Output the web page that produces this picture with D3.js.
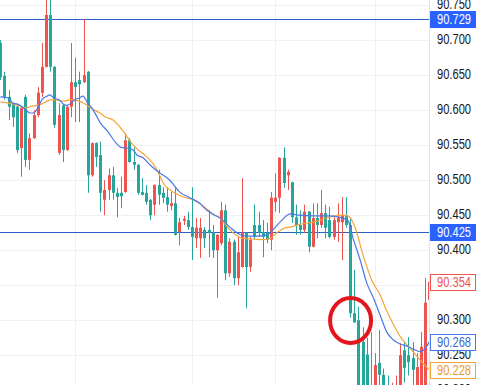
<!DOCTYPE html>
<html>
<head>
    <title>Candles</title>
    <script src="https://d3js.org/d3.v7.min.js"></script>
    <style>
        body { margin: 0; background: #fff; }
        text { font-family: 'Liberation Sans', Arial, sans-serif; }
    </style>
</head>
<body>
<svg id="chart"></svg>
<script>
// candle values, one per bar, oldest first
var opens = [
    90.695, 90.648, 90.618, 90.609, 90.604, 90.545, 90.618, 90.528, 90.559, 90.592,
    90.624, 90.661, 90.735, 90.661, 90.538, 90.606, 90.542, 90.604, 90.639, 90.642,
    90.639, 90.654, 90.506, 90.552, 90.535, 90.471, 90.485, 90.506, 90.481, 90.481,
    90.482, 90.556, 90.525, 90.521, 90.482, 90.481, 90.471, 90.464, 90.492, 90.481,
    90.475, 90.462, 90.466, 90.425, 90.441, 90.442, 90.432, 90.416, 90.416, 90.428,
    90.428, 90.424, 90.399, 90.409, 90.456, 90.366, 90.411, 90.359, 90.375, 90.424,
    90.375, 90.435, 90.435, 90.425, 90.424, 90.414, 90.468, 90.474, 90.531, 90.506,
    90.496, 90.446, 90.435, 90.428, 90.454, 90.404, 90.445, 90.435, 90.452, 90.442,
    90.418, 90.439, 90.439, 90.449, 90.435, 90.309, 90.299, 90.268, 90.250, 90.170,
    90.190, 90.238, 90.221, 90.200, 90.180, 90.185, 90.190, 90.256, 90.249, 90.245,
    90.190, 90.200, 90.200, 90.328
];
var highs = [
    90.699, 90.654, 90.628, 90.610, 90.606, 90.603, 90.621, 90.566, 90.599, 90.632,
    90.695, 90.764, 90.762, 90.662, 90.609, 90.607, 90.605, 90.695, 90.674, 90.654,
    90.729, 90.655, 90.553, 90.553, 90.554, 90.499, 90.516, 90.518, 90.488, 90.504,
    90.566, 90.559, 90.546, 90.522, 90.502, 90.492, 90.472, 90.493, 90.514, 90.489,
    90.489, 90.482, 90.489, 90.445, 90.448, 90.454, 90.489, 90.445, 90.445, 90.432,
    90.456, 90.435, 90.422, 90.468, 90.464, 90.416, 90.414, 90.418, 90.502, 90.425,
    90.418, 90.464, 90.454, 90.442, 90.438, 90.482, 90.509, 90.532, 90.546, 90.514,
    90.497, 90.464, 90.456, 90.464, 90.455, 90.466, 90.466, 90.485, 90.464, 90.461,
    90.446, 90.466, 90.475, 90.475, 90.446, 90.371, 90.318, 90.289, 90.274, 90.282,
    90.252, 90.285, 90.230, 90.220, 90.210, 90.220, 90.266, 90.268, 90.275, 90.268,
    90.252, 90.282, 90.359, 90.359
];
var lows = [
    90.642, 90.614, 90.585, 90.575, 90.538, 90.504, 90.518, 90.514, 90.558, 90.589,
    90.618, 90.660, 90.654, 90.574, 90.535, 90.525, 90.541, 90.589, 90.582, 90.582,
    90.638, 90.481, 90.504, 90.518, 90.454, 90.449, 90.471, 90.471, 90.446, 90.459,
    90.481, 90.524, 90.514, 90.478, 90.477, 90.464, 90.442, 90.449, 90.464, 90.466,
    90.454, 90.456, 90.420, 90.406, 90.435, 90.428, 90.385, 90.402, 90.388, 90.402,
    90.389, 90.388, 90.331, 90.406, 90.356, 90.361, 90.349, 90.349, 90.374, 90.316,
    90.368, 90.414, 90.418, 90.389, 90.409, 90.399, 90.454, 90.452, 90.488, 90.485,
    90.438, 90.421, 90.421, 90.424, 90.396, 90.403, 90.416, 90.431, 90.416, 90.416,
    90.414, 90.411, 90.385, 90.431, 90.303, 90.295, 90.185, 90.170, 90.160, 90.160,
    90.170, 90.190, 90.170, 90.165, 90.170, 90.175, 90.180, 90.210, 90.220, 90.200,
    90.180, 90.190, 90.190, 90.320
];
var closes = [
    90.646, 90.618, 90.604, 90.589, 90.542, 90.602, 90.528, 90.559, 90.592, 90.624,
    90.661, 90.735, 90.661, 90.578, 90.592, 90.542, 90.604, 90.639, 90.632, 90.636,
    90.649, 90.506, 90.552, 90.532, 90.481, 90.485, 90.506, 90.481, 90.475, 90.476,
    90.556, 90.525, 90.521, 90.481, 90.478, 90.468, 90.449, 90.492, 90.478, 90.474,
    90.464, 90.466, 90.421, 90.439, 90.444, 90.432, 90.418, 90.431, 90.431, 90.416,
    90.424, 90.399, 90.421, 90.456, 90.366, 90.411, 90.359, 90.396, 90.424, 90.375,
    90.414, 90.418, 90.424, 90.418, 90.414, 90.474, 90.474, 90.531, 90.495, 90.511,
    90.446, 90.435, 90.428, 90.454, 90.404, 90.445, 90.435, 90.452, 90.431, 90.418,
    90.442, 90.445, 90.449, 90.435, 90.309, 90.296, 90.192, 90.190, 90.180, 90.200,
    90.235, 90.221, 90.190, 90.180, 90.195, 90.205, 90.249, 90.231, 90.239, 90.228,
    90.232, 90.261, 90.324, 90.354
];

// moving averages: [bar index, price]
var maFast = [
    [0, 90.618], [2.1, 90.616], [3, 90.609], [4, 90.608], [5.2, 90.604], [6.2, 90.599],
    [7.1, 90.595], [7.9, 90.595], [9, 90.602], [10, 90.614], [11.2, 90.619], [11.9, 90.621],
    [12.9, 90.616], [14.1, 90.614], [15.1, 90.608], [16, 90.606], [17, 90.609], [17.9, 90.614],
    [18.9, 90.616], [19.9, 90.619], [20.8, 90.611], [22, 90.602], [23, 90.592], [23.9, 90.582],
    [25.9, 90.568], [27.8, 90.552], [29, 90.546], [30.4, 90.545], [31.9, 90.542], [32.8, 90.535],
    [34.3, 90.531], [35.9, 90.521], [37.9, 90.511], [40.7, 90.499], [43.1, 90.482], [45.5, 90.474],
    [47.9, 90.466], [49.6, 90.456], [51.5, 90.449], [52.8, 90.445], [55.1, 90.432], [57.6, 90.421],
    [59.2, 90.419], [61.6, 90.419], [64, 90.421], [65.9, 90.431], [67.6, 90.442], [69.6, 90.451],
    [71.9, 90.449], [75.1, 90.448], [78.4, 90.448], [81.6, 90.446], [83.5, 90.441], [84.7, 90.416],
    [86.4, 90.385], [88, 90.352], [89.5, 90.332], [91.2, 90.306], [92.8, 90.282], [94.3, 90.271],
    [96, 90.265], [97.6, 90.262], [99.1, 90.258], [100.8, 90.254], [102.4, 90.262], [103, 90.268]
];
var maSlow = [
    [0, 90.611], [3, 90.608], [5.2, 90.604], [6.2, 90.602], [7.1, 90.604], [9, 90.606],
    [10, 90.608], [11.2, 90.612], [12.9, 90.614], [15.1, 90.612], [17, 90.614], [18.9, 90.612],
    [20.1, 90.609], [21.1, 90.605], [22, 90.601], [23, 90.598], [23.9, 90.595], [25.4, 90.589],
    [27.1, 90.585], [28.7, 90.575], [29.9, 90.566], [31.1, 90.555], [32.8, 90.544], [34.7, 90.535],
    [35.9, 90.528], [37.6, 90.514], [39.1, 90.495], [41.5, 90.482], [43.9, 90.475], [46.3, 90.471],
    [48.7, 90.462], [51.5, 90.449], [52.8, 90.445], [55.1, 90.428], [58.3, 90.416], [60.7, 90.415],
    [63.1, 90.414], [64.8, 90.416], [66.4, 90.424], [68.4, 90.431], [69.6, 90.432], [71.9, 90.436],
    [75.1, 90.439], [78.4, 90.445], [81.6, 90.449], [83.5, 90.448], [85.2, 90.431], [87.1, 90.392],
    [89.2, 90.356], [91.2, 90.335], [92.8, 90.312], [94.3, 90.294], [96, 90.276], [97.6, 90.264],
    [99.1, 90.254], [100.8, 90.242], [102, 90.234], [103, 90.228]
];

var priceTicks = [90.2, 90.25, 90.3, 90.35, 90.4, 90.45, 90.5, 90.55, 90.6, 90.65, 90.7, 90.75];
var shownTicks = [90.2, 90.25, 90.3, 90.4, 90.45, 90.5, 90.55, 90.6, 90.65, 90.7, 90.75]; // 90.35 sits under the last-price tag
var timeGrid = [18, 46, 66, 90];          // bar index of the vertical grid lines
var hLines = [90.729, 90.425];            // drawn horizontal levels
var marker = { bar: 84.1, price: 90.2986 }; // red circle

var svgWidth = 481, svgHeight = 385, plotWidth = 429;
var green = '#26a69a', red = '#ef5350';
var blue = '#4a78e6', orange = '#f5a43a', lineBlue = '#2b5ec9';

var svg = d3.select('#chart')
    .attr('width', svgWidth)
    .attr('height', svgHeight)
    .style('display', 'block');

var x = d3.scaleLinear().domain([0, opens.length - 1]).range([0.3, 0.3 + 4.165 * (opens.length - 1)]);
var y = d3.scaleLinear().domain([90.20643, 90.75643]).range([svgHeight, 0]);

svg.append('rect').attr('width', svgWidth).attr('height', svgHeight).attr('fill', '#fff');

svg.append('defs').append('clipPath').attr('id', 'plot')
    .append('rect').attr('width', plotWidth).attr('height', svgHeight);

var plot = svg.append('g').attr('clip-path', 'url(#plot)');

// grid
plot.selectAll('line.hg')
    .data(priceTicks)
    .enter().append('line')
    .attr('x1', 0).attr('x2', plotWidth)
    .attr('y1', function(d) { return Math.round(y(d)) + 0.5; })
    .attr('y2', function(d) { return Math.round(y(d)) + 0.5; })
    .attr('stroke', '#eef0f4');
plot.selectAll('line.vg')
    .data(timeGrid)
    .enter().append('line')
    .attr('y1', 0).attr('y2', svgHeight)
    .attr('x1', function(d) { return Math.round(x(d)) + 0.5; })
    .attr('x2', function(d) { return Math.round(x(d)) + 0.5; })
    .attr('stroke', '#eef0f4');

// horizontal levels
plot.selectAll('line.lvl')
    .data(hLines)
    .enter().append('line')
    .attr('x1', 0).attr('x2', plotWidth)
    .attr('y1', function(d) { return Math.round(y(d)) + 0.5; })
    .attr('y2', function(d) { return Math.round(y(d)) + 0.5; })
    .attr('stroke', lineBlue);

// candles
var bars = d3.range(opens.length);
var candle = plot.selectAll('g.c')
    .data(bars)
    .enter().append('g')
    .attr('fill', function(i) { return closes[i] >= opens[i] ? red : green; });
candle.append('rect')
    .attr('x', function(i) { return Math.round(x(i)); })
    .attr('width', 1)
    .attr('y', function(i) { return y(highs[i]); })
    .attr('height', function(i) { return y(lows[i]) - y(highs[i]); });
candle.append('rect')
    .attr('x', function(i) { return Math.round(x(i)) - 1; })
    .attr('width', 3)
    .attr('y', function(i) { return y(Math.max(opens[i], closes[i])); })
    .attr('height', function(i) { return Math.max(1, Math.abs(y(opens[i]) - y(closes[i]))); });

// moving averages
var ma = d3.line()
    .x(function(d) { return x(d[0]); })
    .y(function(d) { return y(d[1]); })
    .curve(d3.curveMonotoneX);
plot.append('path').attr('d', ma(maSlow)).attr('fill', 'none').attr('stroke', orange).attr('stroke-width', 1.2);
plot.append('path').attr('d', ma(maFast)).attr('fill', 'none').attr('stroke', blue).attr('stroke-width', 1.2);

// annotation circle
plot.append('ellipse')
    .attr('cx', x(marker.bar)).attr('cy', y(marker.price))
    .attr('rx', 20.5).attr('ry', 22.5)
    .attr('fill', 'none').attr('stroke', '#e3161e').attr('stroke-width', 4);

// price axis
var axis = svg.append('g');
axis.append('line')
    .attr('x1', plotWidth + 0.5).attr('x2', plotWidth + 0.5)
    .attr('y1', 0).attr('y2', svgHeight)
    .attr('stroke', '#e0e3eb');
axis.selectAll('text.tick')
    .data(shownTicks)
    .enter().append('text')
    .attr('x', 437)
    .attr('y', function(d) { return y(d); })
    .attr('dy', '0.35em')
    .attr('font-size', 14)
    .attr('textLength', 34)
    .attr('lengthAdjust', 'spacingAndGlyphs')
    .attr('fill', '#131722')
    .text(function(d) { return d.toFixed(3); });

// value labels on the axis
var tags = [
    { v: hLines[0], fill: '#2962ff', stroke: '#2962ff', color: '#fff' },
    { v: hLines[1], fill: '#2962ff', stroke: '#2962ff', color: '#fff' },
    { v: closes[closes.length - 1], fill: '#fff', stroke: red, color: red },
    { v: maFast[maFast.length - 1][1], fill: '#fff', stroke: blue, color: '#3a66d0' },
    { v: maSlow[maSlow.length - 1][1], fill: '#fff', stroke: orange, color: '#eb9a2a' }
];
var tag = axis.selectAll('g.tag')
    .data(tags)
    .enter().append('g');
tag.append('rect')
    .attr('x', plotWidth + 1.5)
    .attr('y', function(d) { return Math.round(y(d.v)) - 8 + 0.5; })
    .attr('width', 45).attr('height', 16)
    .attr('fill', function(d) { return d.fill; })
    .attr('stroke', function(d) { return d.stroke; });
tag.append('text')
    .attr('x', 437)
    .attr('y', function(d) { return Math.round(y(d.v)) + 0.5; })
    .attr('dy', '0.35em')
    .attr('font-size', 14)
    .attr('textLength', 34)
    .attr('lengthAdjust', 'spacingAndGlyphs')
    .attr('fill', function(d) { return d.color; })
    .text(function(d) { return d.v.toFixed(3); });
</script>
</body>
</html>
